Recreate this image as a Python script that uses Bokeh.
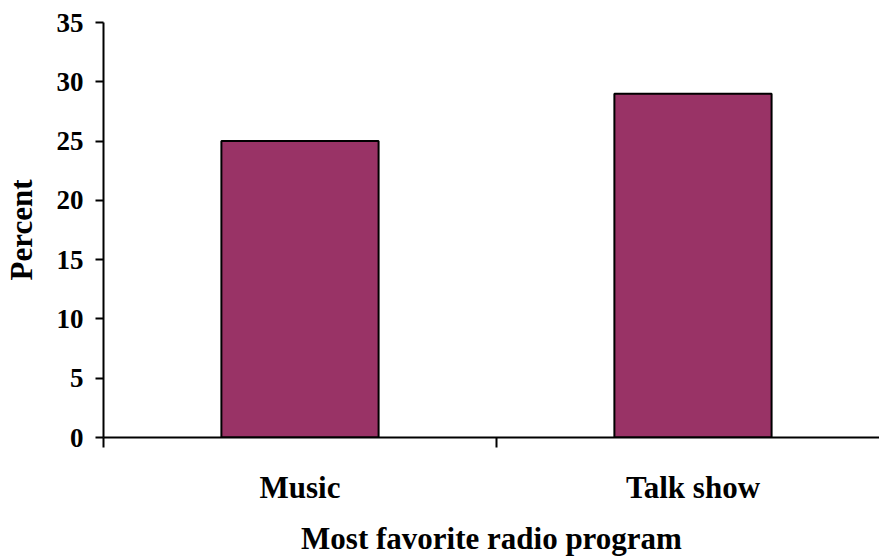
from bokeh.plotting import figure
from bokeh.models import Range1d, FixedTicker, LinearAxis
from bokeh.embed import file_html
from bokeh.resources import INLINE

# Survey result: most favorite radio program
categories = ["Music", "Talk show"]
percent = [25, 29]
y_ticks = [0, 5, 10, 15, 20, 25, 30, 35]

# categories sit at the centres of unit-wide slots: 0.5, 1.5, ...
centers = [i + 0.5 for i in range(len(categories))]
boundaries = list(range(len(categories) + 1))

FONT = "Liberation Serif"
BAR_COLOR = "#993366"

p = figure(
    width=879, height=558,
    x_range=Range1d(0, 1.9746), y_range=Range1d(0, 35),
    output_backend="svg", toolbar_location=None,
    x_axis_type=None, y_axis_type=None,
    min_border_left=103, min_border_right=0, min_border_top=22, min_border_bottom=121,
)
p.outline_line_color = None
p.xgrid.visible = False
p.ygrid.visible = False

p.vbar(x=centers, top=percent, width=0.4,
       fill_color=BAR_COLOR, line_color="black", line_width=2)

# y axis
yaxis = LinearAxis(ticker=FixedTicker(ticks=y_ticks, minor_ticks=[]))
yaxis.axis_label = "Percent"
yaxis.axis_line_width = 2
yaxis.axis_line_color = "black"
yaxis.major_tick_line_width = 2
yaxis.major_tick_line_color = "black"
yaxis.major_tick_out = 8
yaxis.major_tick_in = 0
yaxis.minor_tick_line_color = None
yaxis.major_label_standoff = 12
yaxis.major_label_text_font = FONT
yaxis.major_label_text_font_style = "bold"
yaxis.major_label_text_font_size = "27px"
yaxis.major_label_text_color = "black"
yaxis.axis_label_text_font = FONT
yaxis.axis_label_text_font_style = "bold"
yaxis.axis_label_text_font_size = "31px"
yaxis.axis_label_text_color = "black"
yaxis.axis_label_standoff = 15
p.add_layout(yaxis, "left")

# x axis: labels at slot centres, tick marks at slot boundaries
xaxis = LinearAxis(ticker=FixedTicker(ticks=centers, minor_ticks=boundaries))
xaxis.major_label_overrides = {c: name for c, name in zip(centers, categories)}
xaxis.axis_label = "Most favorite radio program"
xaxis.axis_line_width = 2
xaxis.axis_line_color = "black"
xaxis.major_tick_line_color = None
xaxis.major_tick_out = 10
xaxis.major_tick_in = 0
xaxis.minor_tick_line_width = 2
xaxis.minor_tick_line_color = "black"
xaxis.minor_tick_out = 10
xaxis.minor_tick_in = 0
xaxis.major_label_standoff = 22
xaxis.major_label_text_font = FONT
xaxis.major_label_text_font_style = "bold"
xaxis.major_label_text_font_size = "31px"
xaxis.major_label_text_color = "black"
xaxis.axis_label_text_font = FONT
xaxis.axis_label_text_font_style = "bold"
xaxis.axis_label_text_font_size = "31px"
xaxis.axis_label_text_color = "black"
xaxis.axis_label_standoff = 13
p.add_layout(xaxis, "below")

open("out.html", "w").write(file_html(p, INLINE))
